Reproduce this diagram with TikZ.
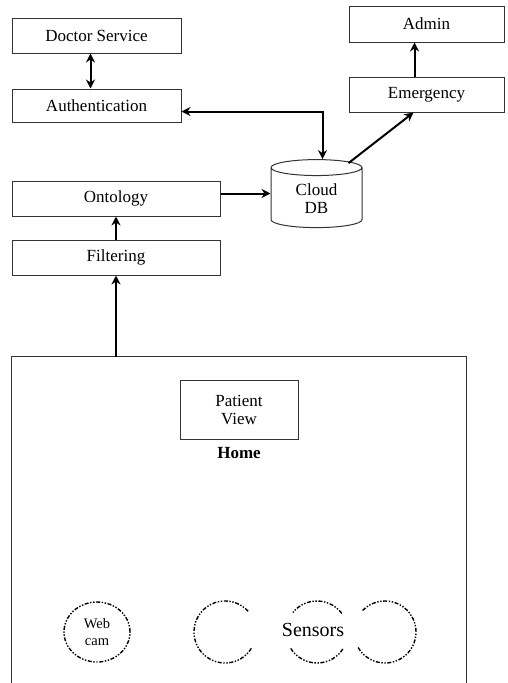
\documentclass[tikz,border=0pt]{standalone}
\usepackage{fontspec}
\setmainfont{Liberation Serif}
\usetikzlibrary{shapes.geometric,positioning,arrows.meta}

\tikzset{
	box/.style={draw=black!80, line width=1pt, inner sep=2pt},
	link/.style={line width=2pt},
	sensorline/.style={line width=1.4pt, dash pattern=on 4pt off 1.6pt on 1.4pt off 1.6pt on 1.4pt off 1.6pt}
}

\begin{document}
\begin{tikzpicture}[>={Stealth[length=9pt,width=9pt]}, x=1pt, y=-1pt, font=\fontsize{17}{18}\selectfont]
				\useasboundingbox (0,0) rectangle (508,683);

				% SERVICES

				\node[box, minimum width=169pt, minimum height=35pt] (doc) at (96.5,35.5) {Doctor Service};
				\node[box, minimum width=169pt, minimum height=33pt] (auth) at (96.5,105.5) {Authentication};
				\node[box, minimum width=155pt, minimum height=36pt] (admin) at (426.5,24) {Admin};
				\node[box, minimum width=155pt, minimum height=35pt] (emerg) at (426.5,94.5) {Emergency};
				\node[box, cylinder, shape border rotate=90, shape aspect=0.35, align=center,
					minimum width=91pt, minimum height=68pt] (db) at (316.5,199) {Cloud\\DB};
				\node[box, minimum width=208pt, minimum height=35pt] (onto) at (116,198.5) {Ontology};
				\node[box, minimum width=208pt, minimum height=35pt] (filt) at (116,257.5) {Filtering};

				\draw[link, <->] ([xshift=-6pt]doc.south) to ([xshift=-6pt]auth.north);
				\draw[link, <->] ([yshift=-6pt]auth.east) -| ([xshift=6pt]db.north);
				\draw[link, ->] ([xshift=32pt,yshift=-4pt]db.north) to ([xshift=-13pt]emerg.south);
				\draw[link, ->] ([xshift=-12pt]emerg.north) to ([xshift=-12pt]admin.south);
				\draw[link, ->] ([yshift=5pt]onto.east) to ([yshift=5pt]onto.east -| db.west);
				\draw[link, ->] (filt.north) to (onto.south);

				% HOME

				\node[minimum width=454pt, minimum height=326pt, inner sep=0pt] (home) at (239,520) {};
				\draw[box] (home.south west) |- (home.north east) -- (home.south east);
				\node[box, minimum width=118pt, minimum height=59pt, align=center] (pview) at (239,409.5) {Patient\\View};
				\node[font=\fontsize{17}{18}\selectfont\bfseries] (homelbl) at (239,453) {Home};

				\draw[link, ->] (filt |- home.north) to (filt.south);

				% SENSORS

				\node[sensorline, draw, ellipse, minimum width=66pt, minimum height=60pt, inner sep=0pt,
					align=center, font=\fontsize{14.5}{17.5}\selectfont] (cam) at (97,632) {Web\\cam};
				\coordinate (s1) at (225,632);
				\coordinate (s2) at (317,632);
				\coordinate (s3) at (385,632);
				\draw[sensorline] (s1) ++(-42:31) arc[start angle=-42, end angle=-331, radius=31];
				\draw[sensorline] (s2) ++(-37:31) arc[start angle=-37, end angle=-141, radius=31];
				\draw[sensorline] (s2) ++(-212:31) arc[start angle=-212, end angle=-327, radius=31];
				\draw[sensorline] (s3) ++(-210:31) arc[start angle=-210, end angle=-496, radius=31];
				\node[font=\fontsize{20}{22}\selectfont] (sens) at (313,630) {Sensors};
\end{tikzpicture}
\end{document}
